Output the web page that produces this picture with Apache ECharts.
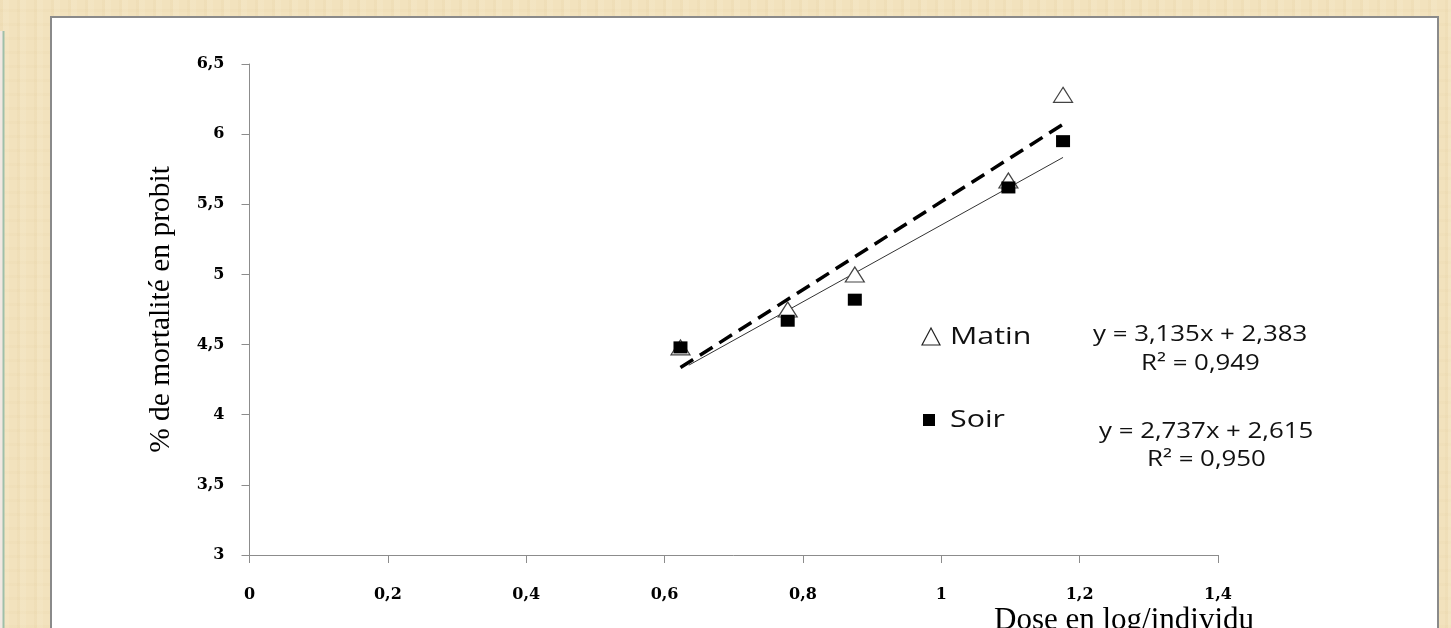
<!DOCTYPE html>
<html>
<head>
<meta charset="utf-8">
<script src="https://cdn.jsdelivr.net/npm/echarts@6/dist/echarts.min.js"></script>
<style>
  html, body { margin: 0; padding: 0; }
  body {
    width: 1451px; height: 628px; overflow: hidden;
    background-color: #f2e2bd;
    background-image:
      repeating-linear-gradient(90deg, rgba(205,175,115,0.07) 0px, rgba(205,175,115,0.07) 3px, rgba(255,250,235,0.10) 3px, rgba(255,250,235,0.10) 9px, transparent 9px, transparent 17px),
      repeating-linear-gradient(0deg, rgba(205,175,115,0.05) 0px, rgba(205,175,115,0.05) 3px, transparent 3px, transparent 14px);
  }
  #chart { width: 1451px; height: 628px; }
</style>
</head>
<body>
<div id="chart"></div>
<script>
// ---- data ----
const doses = [0.623, 0.778, 0.875, 1.097, 1.176];          // Dose en log/individu
const matinValues = [4.48, 4.75, 5.00, 5.67, 6.28];         // probit, matin
const soirValues  = [4.48, 4.67, 4.82, 5.62, 5.95];         // probit, soir
const matinFitX = [0.623, 1.176];
const matinFitY = [4.336, 6.070];                           // y = 3,135x + 2,383
const soirFitX  = [0.635, 1.176];
const soirFitY  = [4.353, 5.834];                           // y = 2,737x + 2,615
const xTicks = [0, 0.2, 0.4, 0.6, 0.8, 1, 1.2, 1.4];
const xTickLabels = ['0', '0,2', '0,4', '0,6', '0,8', '1', '1,2', '1,4'];
const yTicks = [3, 3.5, 4, 4.5, 5, 5.5, 6, 6.5];
const yTickLabels = ['3', '3,5', '4', '4,5', '5', '5,5', '6', '6,5'];
const seriesNames = ['Matin', 'Soir'];
const equationTexts = ['y = 3,135x + 2,383', 'R\u00b2 = 0,949', 'y = 2,737x + 2,615', 'R\u00b2 = 0,950'];

function lookup(ticks, labels, v) {
  for (let i = 0; i < ticks.length; i++) if (Math.abs(ticks[i] - v) < 1e-6) return labels[i];
  return '';
}
const zip = (xs, ys) => xs.map((x, i) => [x, ys[i]]);

const chart = echarts.init(document.getElementById('chart'), null, { renderer: 'canvas' });

const axisCommon = {
  axisLine: { show: true, lineStyle: { color: '#8c8c8c', width: 1 } },
  axisTick: { show: true, inside: false, length: 8, lineStyle: { color: '#8c8c8c', width: 1 } },
  splitLine: { show: false },
};

const annFont = "'Open Sans', 'DejaVu Sans', sans-serif";
function annText(str, x, y, size, sx) {
  return {
    type: 'text', x: x, y: y, scaleX: sx, scaleY: 1, z: 10,
    style: { text: str, x: 0, y: 0, fill: '#111', font: size + 'px ' + annFont,
             textAlign: 'left', textVerticalAlign: 'middle', align: 'left', verticalAlign: 'middle' }
  };
}

chart.setOption({
  backgroundColor: 'transparent',
  animation: false,
  grid: { left: 249.5, right: 233, top: 64, bottom: 73, containLabel: false, outerBoundsMode: 'none' },
  xAxis: Object.assign({
    type: 'value', min: 0, max: 1.4, interval: 0.2,
    name: 'Dose en log/individu', nameLocation: 'end', nameGap: -224,
    nameTextStyle: { fontFamily: "'Liberation Serif', 'Times New Roman', serif", fontSize: 31, color: '#000',
                     align: 'left', verticalAlign: 'top', padding: [50, 0, 0, 0] },
    axisLabel: { margin: 32, color: '#000', fontFamily: "'DejaVu Serif', serif", fontWeight: 'bold', fontSize: 16,
                 formatter: v => lookup(xTicks, xTickLabels, v) }
  }, axisCommon),
  yAxis: Object.assign({
    type: 'value', min: 3, max: 6.5, interval: 0.5,
    name: '% de mortalité en probit', nameLocation: 'middle', nameGap: 73, nameRotate: 90,
    nameTextStyle: { fontFamily: "'Liberation Serif', 'Times New Roman', serif", fontSize: 29.5, color: '#000' },
    axisLabel: { margin: 25, color: '#000', fontFamily: "'DejaVu Serif', serif", fontWeight: 'bold', fontSize: 16,
                 formatter: v => lookup(yTicks, yTickLabels, v) }
  }, axisCommon),
  series: [
    {
      name: seriesNames[0] + ' (tendance)', type: 'line', data: zip(matinFitX, matinFitY),
      symbol: 'none', z: 3,
      lineStyle: { color: '#000', width: 3.5, type: [15, 8] }
    },
    {
      name: seriesNames[1] + ' (tendance)', type: 'line', data: zip(soirFitX, soirFitY),
      symbol: 'none', z: 3,
      lineStyle: { color: '#333', width: 1, type: 'solid' }
    },
    {
      name: seriesNames[0], type: 'scatter', data: zip(doses, matinValues),
      symbol: 'triangle', symbolSize: [19, 15], z: 4,
      itemStyle: { color: '#ffffff', borderColor: '#444', borderWidth: 1.2, opacity: 1 }
    },
    {
      name: seriesNames[1], type: 'scatter', data: zip(doses, soirValues),
      symbol: 'rect', symbolSize: [14, 12], z: 5,
      itemStyle: { color: '#000', opacity: 1 }
    }
  ],
  graphic: {
    elements: [
      // left strip of an underlying slide
      { type: 'rect', z: -20, shape: { x: 0, y: 31, width: 3, height: 620 }, style: { fill: '#f1e8e2' } },
      { type: 'line', z: -19, shape: { x1: 3.5, y1: 31, x2: 3.5, y2: 640 }, style: { stroke: '#9fbfa9', lineWidth: 2 } },
      // white chart panel
      { type: 'rect', z: -10, shape: { x: 51, y: 17, width: 1387, height: 700 },
        style: { fill: '#ffffff', stroke: '#8a8a8a', lineWidth: 2 } },
      // legend (hand-made text boxes in the original)
      { type: 'polygon', z: 10, shape: { points: [[931, 328], [922, 345], [940, 345]] },
        style: { fill: '#fff', stroke: '#222', lineWidth: 1.2 } },
      annText(seriesNames[0], 950, 337, 23, 1.32),
      { type: 'rect', z: 10, shape: { x: 923, y: 414, width: 12, height: 12 }, style: { fill: '#000' } },
      annText(seriesNames[1], 950, 420, 23, 1.32),
      annText(equationTexts[0], 1093, 335, 21, 1.23),
      annText(equationTexts[1], 1141, 364, 21, 1.23),
      annText(equationTexts[2], 1099, 432, 21, 1.23),
      annText(equationTexts[3], 1147, 460, 21, 1.23)
    ]
  }
});
</script>
</body>
</html>
